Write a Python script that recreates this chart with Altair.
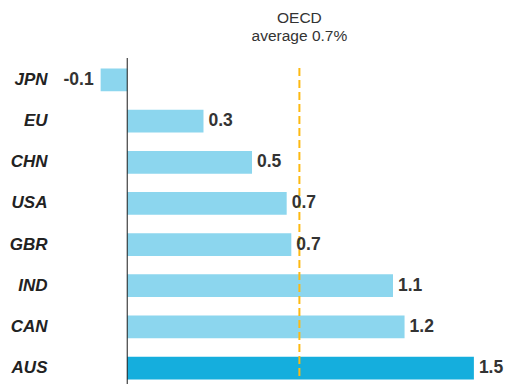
import altair as alt
import pandas as pd

countries = ["JPN", "EU", "CHN", "USA", "GBR", "IND", "CAN", "AUS"]
values = [-0.115, 0.33, 0.54, 0.69, 0.71, 1.15, 1.2, 1.5]
labels = ["-0.1", "0.3", "0.5", "0.7", "0.7", "1.1", "1.2", "1.5"]
oecd_avg = 0.745
oecd_text = "OECD\naverage 0.7%"

df = pd.DataFrame({"country": countries, "value": values, "label": labels})

W, H = 416, 320
font = "Liberation Sans"

xs = alt.Scale(domain=[-0.2, 1.6], zero=False, nice=False)
ys = alt.Scale(domain=countries, paddingInner=0.447, paddingOuter=0.112)

base = alt.Chart(df)

bars = base.mark_bar().encode(
    x=alt.X("value:Q", scale=xs, axis=None),
    x2=alt.datum(0),
    y=alt.Y("country:N", scale=ys, sort=countries,
            axis=alt.Axis(title=None, domain=False, ticks=False, labelPadding=34,
                          labelFont=font, labelFontSize=17, labelFontWeight="bold",
                          labelFontStyle="italic", labelColor="#222222")),
    color=alt.condition(alt.datum.country == "AUS", alt.value("#15AEDD"), alt.value("#8CD6EE")),
)

pos_text = base.transform_filter(alt.datum.value >= 0).mark_text(
    align="left", baseline="middle", dx=5, font=font, fontSize=17.5,
    fontWeight="bold", color="#333333"
).encode(x=alt.X("value:Q", scale=xs), y=alt.Y("country:N", scale=ys, sort=countries), text="label:N")

neg_text = base.transform_filter(alt.datum.value < 0).mark_text(
    align="right", baseline="middle", dx=-7, font=font, fontSize=17.5,
    fontWeight="bold", color="#333333"
).encode(x=alt.X("value:Q", scale=xs), y=alt.Y("country:N", scale=ys, sort=countries), text="label:N")

zero_rule = alt.Chart(pd.DataFrame({"v": [0]})).mark_rule(color="#1a1a1a", strokeWidth=1).encode(
    x=alt.X("v:Q", scale=xs), y=alt.value(-6), y2=alt.value(H)
)

avg_df = pd.DataFrame({"v": [oecd_avg], "t": [oecd_text]})
avg_rule = alt.Chart(avg_df).mark_rule(color="#FDB913", strokeWidth=2, strokeDash=[8, 4]).encode(
    x=alt.X("v:Q", scale=xs), y=alt.value(4), y2=alt.value(H - 4)
)
avg_text = alt.Chart(avg_df).mark_text(
    align="center", baseline="alphabetic", lineBreak="\n", lineHeight=18,
    font=font, fontSize=15.5, color="#333333"
).encode(x=alt.X("v:Q", scale=xs), y=alt.value(-41), text="t:N")

chart = alt.layer(bars, zero_rule, avg_rule, pos_text, neg_text, avg_text).properties(
    width=W, height=H,
    autosize=alt.AutoSizeParams(type="none"),
    padding={"left": 73, "top": 56, "right": 7, "bottom": 0},
).configure_view(stroke=None)

chart.save("out.html", embed_options={"renderer": "svg", "actions": False})
